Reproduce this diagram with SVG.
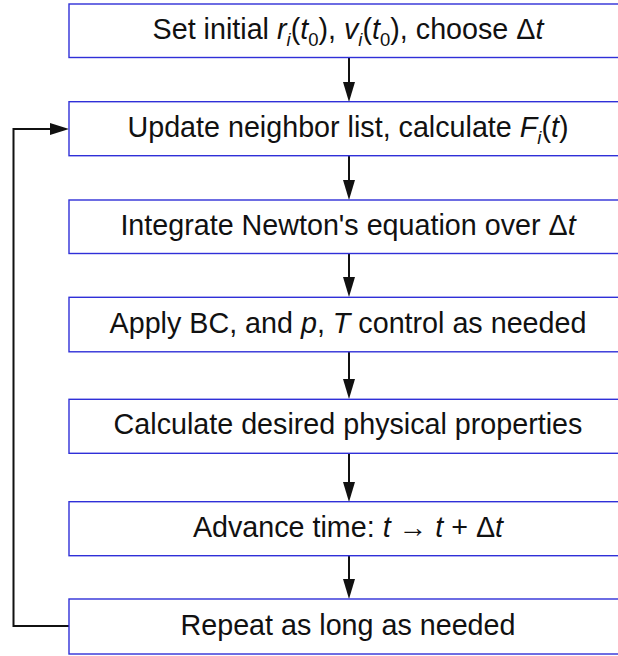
<svg xmlns="http://www.w3.org/2000/svg" width="618" height="656" viewBox="0 0 618 656">
<style>
.box{fill:#fff;stroke:#3030d8;stroke-width:1.4}
.lbl{font-family:"Liberation Sans",Arial,sans-serif;font-size:28.7px;fill:#111;text-anchor:middle}
.it{font-style:italic}
.sub{font-size:18.5px}
.con{fill:none;stroke:#111;stroke-width:2}
.head{fill:#111}
</style>
<rect width="618" height="656" fill="#fff"/>
<g id="connectors">
<line class="con" x1="349" y1="58" x2="349" y2="84"/>
<polygon class="head" points="343,82 355,82 349,102"/>
<line class="con" x1="349" y1="156" x2="349" y2="182"/>
<polygon class="head" points="343,180 355,180 349,200"/>
<line class="con" x1="349" y1="254" x2="349" y2="279"/>
<polygon class="head" points="343,277 355,277 349,297"/>
<line class="con" x1="349" y1="352" x2="349" y2="381"/>
<polygon class="head" points="343,379 355,379 349,399"/>
<line class="con" x1="349" y1="454" x2="349" y2="484"/>
<polygon class="head" points="343,482 355,482 349,502"/>
<line class="con" x1="349" y1="556" x2="349" y2="581"/>
<polygon class="head" points="343,579 355,579 349,599"/>
<path class="con" d="M69,626 H13.5 V129 H52"/>
<polygon class="head" points="50,123 69,129 50,135"/>
</g>
<g id="n1">
<rect class="box" x="69" y="4" width="560" height="53.5"/>
<text class="lbl" x="348" y="38.5">Set initial <tspan class="it">r</tspan><tspan class="it sub" dy="7">i</tspan><tspan dy="-7">(</tspan><tspan class="it">t</tspan><tspan class="sub" dy="7">0</tspan><tspan dy="-7">), </tspan><tspan class="it">v</tspan><tspan class="it sub" dy="7">i</tspan><tspan dy="-7">(</tspan><tspan class="it">t</tspan><tspan class="sub" dy="7">0</tspan><tspan dy="-7">), choose Δ</tspan><tspan class="it">t</tspan></text>
</g>
<g id="n2">
<rect class="box" x="69" y="101.7" width="560" height="54"/>
<text class="lbl" x="348" y="136.5">Update neighbor list, calculate <tspan class="it">F</tspan><tspan class="it sub" dy="7">i</tspan><tspan dy="-7">(</tspan><tspan class="it">t</tspan>)</text>
</g>
<g id="n3">
<rect class="box" x="69" y="200" width="560" height="53.5"/>
<text class="lbl" x="348" y="234.5">Integrate Newton's equation over Δ<tspan class="it">t</tspan></text>
</g>
<g id="n4">
<rect class="box" x="69" y="297.3" width="560" height="54.5"/>
<text class="lbl" x="348" y="332.5">Apply BC, and <tspan class="it">p</tspan>, <tspan class="it">T</tspan> control as needed</text>
</g>
<g id="n5">
<rect class="box" x="69" y="399.3" width="560" height="54"/>
<text class="lbl" x="348" y="434">Calculate desired physical properties</text>
</g>
<g id="n6">
<rect class="box" x="69" y="501.7" width="560" height="54"/>
<text class="lbl" x="348" y="536.5">Advance time: <tspan class="it">t</tspan> → <tspan class="it">t</tspan> + Δ<tspan class="it">t</tspan></text>
</g>
<g id="n7">
<rect class="box" x="69" y="599" width="560" height="55"/>
<text class="lbl" x="348" y="635">Repeat as long as needed</text>
</g>
</svg>
